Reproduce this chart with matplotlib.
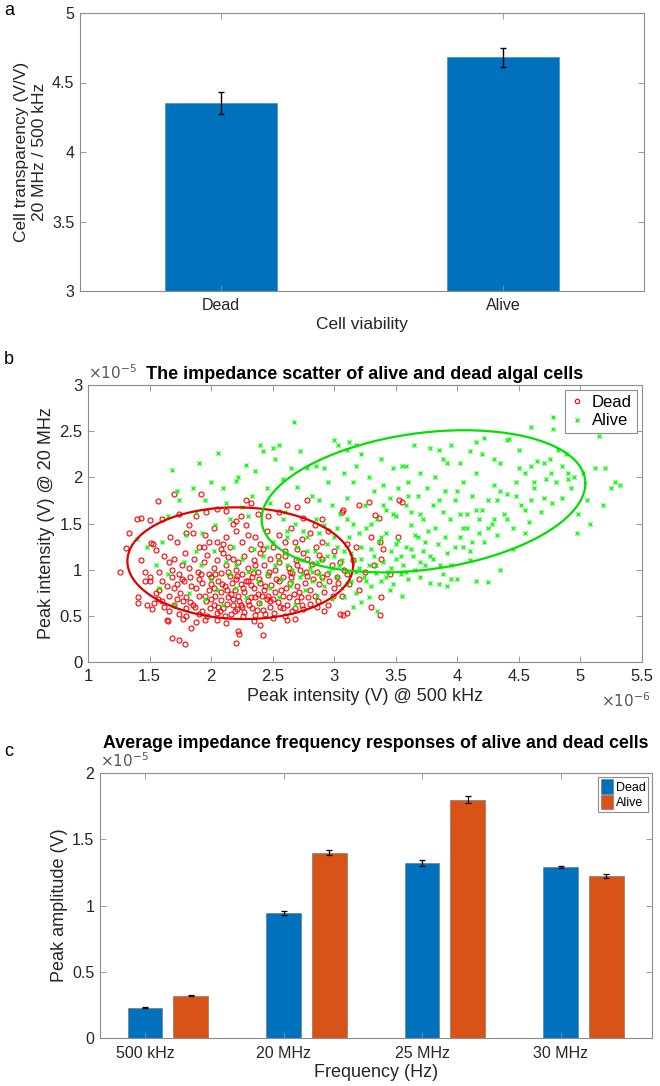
import numpy as np
import matplotlib
matplotlib.use("Agg")
import matplotlib.pyplot as plt
from matplotlib.ticker import FuncFormatter
from matplotlib.lines import Line2D
from matplotlib.patches import Patch

plt.rcParams['font.family'] = ['Liberation Sans', 'DejaVu Sans']

# --- panel a: transparency ratio ---
viability = ['Dead', 'Alive']
transparency = [4.35, 4.68]
transparency_err = [0.08, 0.07]

# --- panel b: scatter (x in 1e-6 V, y in 1e-5 V) ---
dead_pts = [
    (1.40, 1.55), (1.43, 1.56), (1.50, 1.54), (1.57, 1.74), (1.60, 1.55), (1.70, 1.82), (1.74, 1.60),
    (1.82, 1.48), (1.92, 1.82), (1.96, 1.62), (2.05, 1.66), (2.12, 1.63), (2.20, 1.53), (2.24, 1.58),
    (2.28, 1.75), (2.32, 1.72), (2.38, 1.60), (2.46, 1.58), (2.55, 1.62), (2.62, 1.70), (2.70, 1.68),
    (2.78, 1.75), (2.75, 1.56), (2.90, 1.55), (3.07, 1.65), (3.06, 1.62), (3.20, 1.70), (3.28, 1.73),
    (3.33, 1.59), (3.36, 1.56), (3.53, 1.75), (3.55, 1.73), (2.18, 1.50), (1.88, 1.58),
    (1.31, 1.24), (1.33, 1.40), (1.51, 1.29), (1.53, 1.28), (1.55, 1.21), (1.67, 1.35), (1.72, 1.30),
    (1.80, 1.40), (1.85, 1.40), (1.90, 1.25), (1.95, 1.38), (1.98, 1.30), (2.02, 1.45), (2.05, 1.30),
    (2.08, 1.22), (2.12, 1.35), (2.15, 1.25), (2.20, 1.42), (2.25, 1.30), (2.28, 1.48), (2.32, 1.22),
    (2.36, 1.35), (2.40, 1.28), (2.45, 1.42), (2.50, 1.25), (2.55, 1.38), (2.60, 1.30), (2.65, 1.45),
    (2.70, 1.22), (2.74, 1.33), (2.80, 1.40), (2.85, 1.25), (2.90, 1.30), (2.95, 1.42), (3.00, 1.20),
    (3.10, 1.28), (3.18, 1.25), (3.30, 1.35), (3.37, 1.30), (3.40, 1.22), (3.52, 1.35), (3.38, 1.12),
    (1.26, 0.98), (1.43, 1.10), (1.46, 0.98), (1.50, 0.92), (1.58, 0.98), (1.62, 1.15), (1.66, 1.08),
    (1.68, 1.00), (1.70, 1.12), (1.74, 0.95), (1.76, 1.05), (1.79, 1.18), (1.82, 1.02), (1.83, 0.92),
    (1.86, 1.12), (1.89, 0.98), (1.92, 0.95), (1.94, 1.08), (1.97, 1.16), (2.00, 0.92), (2.02, 1.02),
    (2.05, 1.10), (2.08, 0.96), (2.10, 1.18), (2.12, 1.05), (2.15, 0.93), (2.18, 1.12), (2.20, 1.00),
    (2.22, 1.08), (2.25, 0.95), (2.27, 1.15), (2.30, 1.02), (2.33, 0.92), (2.35, 1.10), (2.38, 0.98),
    (2.40, 1.18), (2.43, 1.05), (2.46, 0.94), (2.48, 1.12), (2.52, 1.00), (2.55, 1.08), (2.58, 0.92),
    (2.60, 1.15), (2.63, 1.02), (2.66, 0.96), (2.69, 1.10), (2.72, 1.00), (2.75, 1.18), (2.78, 0.93),
    (2.82, 1.06), (2.86, 0.98), (2.90, 1.12), (2.94, 0.95), (2.98, 1.05), (3.02, 0.92), (3.08, 1.00),
    (3.15, 1.10), (3.25, 0.98), (3.32, 1.05), (3.45, 0.95), (2.88, 1.16), (2.14, 1.14),
    (1.41, 0.70), (1.46, 0.88), (1.50, 0.88), (1.58, 0.78), (1.60, 0.88), (1.66, 0.72), (1.70, 0.80),
    (1.72, 0.85), (1.75, 0.75), (1.78, 0.88), (1.80, 0.70), (1.84, 0.82), (1.88, 0.80), (1.90, 0.72),
    (1.93, 0.86), (1.95, 0.72), (1.98, 0.78), (2.00, 0.84), (2.03, 0.72), (2.06, 0.88), (2.08, 0.76),
    (2.11, 0.82), (2.14, 0.70), (2.17, 0.86), (2.19, 0.78), (2.22, 0.72), (2.24, 0.84), (2.27, 0.76),
    (2.30, 0.88), (2.32, 0.70), (2.35, 0.80), (2.38, 0.74), (2.40, 0.86), (2.43, 0.78), (2.46, 0.71),
    (2.49, 0.83), (2.52, 0.76), (2.55, 0.88), (2.58, 0.72), (2.61, 0.80), (2.64, 0.86), (2.67, 0.74),
    (2.70, 0.82), (2.73, 0.70), (2.76, 0.86), (2.80, 0.78), (2.84, 0.72), (2.88, 0.84), (2.92, 0.76),
    (2.96, 0.88), (3.00, 0.80), (3.06, 0.72), (3.12, 0.85), (3.20, 0.78), (3.38, 0.70), (2.26, 0.80),
    (2.44, 0.82), (2.13, 0.78),
    (1.41, 0.64), (1.48, 0.62), (1.52, 0.57), (1.54, 0.64), (1.57, 0.68), (1.62, 0.60), (1.66, 0.55),
    (1.70, 0.62), (1.74, 0.52), (1.77, 0.66), (1.80, 0.58), (1.83, 0.65), (1.87, 0.60), (1.90, 0.52),
    (1.93, 0.55), (1.96, 0.66), (1.99, 0.58), (2.02, 0.62), (2.05, 0.53), (2.08, 0.67), (2.10, 0.58),
    (2.13, 0.63), (2.16, 0.52), (2.18, 0.68), (2.21, 0.57), (2.24, 0.62), (2.27, 0.54), (2.30, 0.66),
    (2.33, 0.58), (2.36, 0.51), (2.39, 0.64), (2.42, 0.56), (2.45, 0.68), (2.48, 0.60), (2.51, 0.53),
    (2.54, 0.65), (2.58, 0.58), (2.62, 0.62), (2.66, 0.55), (2.70, 0.66), (2.75, 0.57), (2.80, 0.63),
    (2.86, 0.60), (2.92, 0.55), (3.05, 0.52), (3.07, 0.51), (3.10, 0.53), (3.37, 0.51), (2.25, 0.60),
    (2.06, 0.60),
    (1.64, 0.45), (1.65, 0.44), (1.68, 0.26), (1.74, 0.24), (1.77, 0.47), (1.79, 0.19), (1.84, 0.37),
    (1.95, 0.46), (2.05, 0.45), (2.20, 0.21), (2.22, 0.34), (2.23, 0.30), (2.35, 0.44), (2.40, 0.40),
    (2.42, 0.29), (2.50, 0.48), (2.62, 0.46), (2.68, 0.47), (2.12, 0.42), (1.88, 0.43),
    (1.85, 0.62), (1.90, 0.90), (1.97, 0.50), (2.00, 0.68), (2.03, 0.95), (2.07, 0.55), (2.09, 0.85),
    (2.11, 0.50), (2.14, 0.98), (2.16, 0.74), (2.19, 0.55), (2.21, 0.93), (2.23, 0.66), (2.26, 0.50),
    (2.28, 0.88), (2.31, 0.62), (2.34, 0.96), (2.36, 0.70), (2.37, 0.56), (2.39, 0.90), (2.41, 0.72),
    (2.44, 0.52), (2.47, 0.98), (2.50, 0.68), (2.53, 0.90), (2.56, 0.60), (2.57, 0.78), (2.60, 0.50),
    (2.63, 0.70), (2.65, 0.92), (2.68, 0.58), (2.71, 0.76), (2.74, 0.62), (2.77, 0.98), (2.79, 0.70),
    (2.83, 0.90), (2.87, 0.66), (2.90, 0.92), (2.95, 0.62), (2.99, 0.72), (3.03, 0.86), (3.10, 0.95),
    (1.72, 0.68), (1.76, 0.90), (1.80, 0.50), (1.64, 0.82), (1.60, 0.66), (1.55, 0.75), (1.68, 0.92),
    (1.94, 1.25), (2.10, 1.28), (2.30, 1.38), (2.42, 1.22), (2.60, 1.20), (2.68, 1.30), (2.78, 1.12),
    (2.84, 1.48), (3.05, 1.08), (3.20, 0.90), (3.30, 0.60), (2.18, 0.62), (2.32, 0.83), (2.48, 0.66),
    (2.64, 0.98), (2.20, 0.90), (2.02, 0.80), (1.98, 0.95), (2.36, 1.05), (2.54, 1.15), (2.70, 1.05),
]
alive_pts = [
    (1.40, 1.33), (1.48, 1.25), (1.55, 1.05), (1.60, 1.30), (1.65, 1.58), (1.68, 2.08), (1.72, 1.85),
    (1.74, 1.75), (1.80, 1.38), (1.85, 1.88), (1.88, 1.62), (1.90, 2.15), (1.93, 1.40), (1.95, 1.75),
    (2.00, 1.95), (2.03, 1.48), (2.06, 2.26), (2.10, 1.88), (2.12, 1.72), (2.15, 1.55), (2.20, 1.96),
    (2.22, 2.00), (2.25, 1.68), (2.28, 2.13), (2.30, 1.58), (2.33, 1.80), (2.36, 2.07), (2.40, 2.35),
    (2.42, 2.28), (2.45, 1.88), (2.48, 1.72), (2.50, 2.32), (2.52, 2.20), (2.55, 2.35), (2.58, 1.98),
    (2.60, 1.62), (2.65, 2.10), (2.67, 2.60), (2.70, 1.90), (2.72, 2.28), (2.78, 2.10), (2.82, 1.80),
    (2.85, 2.12), (2.88, 1.75), (2.92, 2.10), (2.95, 1.95), (3.00, 2.40), (3.03, 2.35), (3.10, 2.30),
    (3.08, 2.05), (2.98, 1.70),
    (1.58, 0.80), (1.65, 0.95), (1.70, 0.62), (1.78, 1.08), (1.82, 0.75), (1.88, 1.20), (1.92, 1.05),
    (1.95, 0.68), (2.00, 0.90), (2.02, 1.20), (2.05, 0.78), (2.10, 0.62), (2.12, 1.08), (2.15, 0.95),
    (2.18, 1.25), (2.20, 0.80), (2.25, 1.12), (2.28, 0.70), (2.30, 0.98), (2.35, 1.22), (2.38, 0.88),
    (2.40, 0.64), (2.42, 1.15), (2.45, 0.95), (2.48, 0.80), (2.50, 1.30), (2.52, 1.05), (2.55, 0.70),
    (2.57, 0.90), (2.60, 1.18), (2.62, 1.42), (2.64, 0.82), (2.66, 1.00), (2.68, 0.62), (2.70, 1.25),
    (2.72, 0.92), (2.74, 1.10), (2.76, 0.78), (2.78, 1.35), (2.80, 1.02), (2.82, 0.88), (2.84, 1.20),
    (2.86, 0.72), (2.88, 0.95), (2.90, 1.10), (2.92, 0.82), (2.94, 1.28), (2.96, 0.98), (2.98, 0.68),
    (3.00, 1.15), (2.58, 1.55), (2.62, 1.35), (2.68, 1.50), (2.75, 1.42), (2.85, 1.55), (2.92, 1.48),
    (3.02, 1.45),
    (3.02, 0.92), (3.04, 1.05), (3.06, 0.80), (3.08, 1.20), (3.10, 0.98), (3.12, 1.35), (3.14, 0.88),
    (3.16, 1.10), (3.18, 0.75), (3.20, 1.02), (3.22, 1.25), (3.24, 0.92), (3.26, 1.45), (3.28, 1.05),
    (3.30, 0.82), (3.32, 1.15), (3.34, 0.96), (3.36, 1.30), (3.38, 0.88), (3.40, 1.08), (3.42, 1.40),
    (3.44, 0.98), (3.46, 1.20), (3.48, 0.84), (3.50, 1.12), (3.52, 1.32), (3.54, 0.95), (3.56, 1.05),
    (3.58, 1.25), (3.60, 0.90), (3.62, 1.48), (3.64, 1.15), (3.66, 1.00), (3.68, 1.35), (3.70, 0.92),
    (3.72, 1.20), (3.74, 1.05), (3.76, 1.42), (3.78, 0.86), (3.80, 1.12), (3.84, 1.28), (3.88, 0.95),
    (3.92, 1.18), (3.95, 1.05), (4.00, 0.90), (4.05, 1.25), (4.10, 1.10), (3.15, 0.60), (3.22, 0.65),
    (3.28, 0.70), (3.35, 0.55), (3.08, 0.70), (3.45, 0.78), (3.55, 0.72), (3.85, 0.85), (3.95, 0.90),
    (4.25, 0.87), (3.92, 0.82),
    (3.05, 1.60), (3.10, 1.78), (3.15, 1.95), (3.18, 2.12), (3.22, 2.25), (3.25, 1.70), (3.28, 2.00),
    (3.32, 1.85), (3.35, 1.55), (3.38, 2.20), (3.40, 1.92), (3.42, 1.65), (3.45, 1.78), (3.48, 2.10),
    (3.50, 1.58), (3.52, 1.88), (3.55, 2.12), (3.58, 1.70), (3.60, 1.95), (3.62, 1.62), (3.65, 2.35),
    (3.68, 1.80), (3.70, 2.05), (3.72, 1.55), (3.75, 1.88), (3.78, 2.32), (3.80, 1.70), (3.82, 2.00),
    (3.85, 2.30), (3.88, 1.62), (3.90, 1.85), (3.92, 2.15), (3.95, 2.35), (3.98, 1.75), (4.02, 2.15),
    (4.05, 1.95), (4.08, 1.60), (4.10, 2.28), (4.12, 1.80), (4.15, 2.05), (4.18, 1.55), (4.20, 2.25),
    (3.58, 2.12), (3.12, 2.38), (3.18, 2.35), (3.10, 1.55),
    (4.02, 1.35), (4.05, 1.45), (4.10, 1.20), (4.15, 1.65), (4.18, 1.40), (4.22, 1.30), (4.25, 1.75),
    (4.28, 1.50), (4.30, 1.92), (4.32, 1.38), (4.35, 2.15), (4.38, 1.60), (4.40, 1.82), (4.42, 2.42),
    (4.45, 1.45), (4.48, 1.95), (4.50, 2.10), (4.52, 1.70), (4.55, 2.05), (4.58, 1.52), (4.60, 2.12),
    (4.62, 1.88), (4.65, 2.18), (4.68, 1.62), (4.70, 2.15), (4.72, 1.98), (4.75, 2.20), (4.77, 1.72),
    (4.78, 2.65), (4.78, 2.52), (4.80, 1.95), (4.82, 2.30), (4.85, 1.78), (4.88, 2.25), (4.90, 2.05),
    (4.92, 1.88), (4.95, 2.00), (4.97, 1.40), (4.98, 1.60), (5.00, 2.50), (5.02, 2.05), (5.05, 1.75),
    (5.08, 1.50), (5.12, 2.10), (5.15, 2.45), (5.18, 1.70), (5.20, 2.10), (5.25, 1.88), (5.28, 1.95),
    (5.32, 1.92), (4.60, 2.55), (4.40, 2.40), (4.22, 2.43), (4.30, 1.55), (4.55, 1.40), (4.45, 1.22),
    (4.15, 0.88), (4.35, 1.00),
    (2.62, 1.05), (2.66, 0.88), (2.70, 1.12), (2.74, 0.95), (2.78, 1.20), (2.82, 0.98), (2.86, 1.08),
    (2.90, 0.90), (2.94, 1.15), (2.98, 1.02), (3.02, 1.25), (3.06, 1.10), (3.10, 0.85), (3.14, 1.18),
    (3.18, 0.98), (3.22, 1.12), (3.26, 0.88), (3.30, 1.22), (3.34, 1.05), (3.38, 1.35), (3.42, 0.92),
    (3.46, 1.02), (3.50, 1.28), (3.54, 1.15), (3.58, 0.98), (3.62, 1.22), (3.66, 1.38), (3.70, 1.08),
    (3.74, 1.30), (3.78, 1.15), (3.82, 1.45), (3.86, 1.05), (3.90, 1.35), (3.94, 1.55), (3.98, 1.25),
    (4.02, 1.60), (4.08, 1.45), (4.12, 1.30), (4.20, 1.65), (4.25, 1.45), (4.32, 1.75), (4.40, 1.55),
    (4.48, 1.80), (4.55, 1.65), (4.62, 1.95), (4.70, 1.78), (4.76, 2.05), (4.85, 2.12), (4.90, 1.98),
    (4.30, 2.20), (4.50, 2.30), (4.15, 2.38), (3.88, 2.20), (3.60, 1.80), (3.48, 1.60), (3.40, 1.70),
    (3.30, 1.50), (3.20, 1.40), (3.15, 1.50), (3.00, 1.35), (2.88, 1.40), (2.55, 1.10), (2.45, 1.25),
    (2.35, 1.00), (2.20, 1.05), (3.70, 1.60), (3.85, 1.75), (4.00, 1.85), (4.35, 1.85), (4.60, 1.75),
]
# fitted ellipses: centre and shape matrix (same units as above)
dead_centre = (2.237, 1.07)
dead_shape = [[0.841, -0.02], [-0.02, 0.366]]
alive_centre = (3.725, 1.74)
alive_shape = [[1.729, 0.255], [0.255, 0.593]]

# --- panel c: average responses (1e-5 V) ---
freqs = ['500 kHz', '20 MHz', '25 MHz', '30 MHz']
dead_amp = [0.23, 0.94, 1.32, 1.29]
dead_amp_err = [0.004, 0.015, 0.02, 0.01]
alive_amp = [0.32, 1.40, 1.80, 1.22]
alive_amp_err = [0.005, 0.02, 0.025, 0.015]

BLUE = '#0072BD'
ORANGE = '#D95319'
EDGE = '#8c8c8c'
TXT = '#262626'

fig = plt.figure(figsize=(6.6, 10.86), dpi=100)


def px_axes(l, t, r, b):
    return fig.add_axes([l / 660, 1 - b / 1086, (r - l) / 660, (b - t) / 1086])


def matlab_style(ax, size, xpad=4):
    for s in ax.spines.values():
        s.set_color(EDGE)
        s.set_linewidth(0.8)
    ax.tick_params(direction='in', top=True, right=True, length=4, width=0.6,
                   color=EDGE, labelsize=size, labelcolor=TXT, pad=4)
    ax.tick_params(axis='x', pad=xpad)


# ---------- a ----------
ax = px_axes(80, 13, 644, 291)
xa = np.arange(1, len(viability) + 1)
ax.bar(xa, transparency, width=0.4, color=BLUE, edgecolor='#3d7fb5', linewidth=0.4)
ax.errorbar(xa, transparency, yerr=transparency_err, fmt='none', ecolor='black',
            elinewidth=1.0, capsize=2.5, capthick=1.0)
ax.set_xlim(0.5, 2.5)
ax.set_ylim(3, 5)
ax.set_xticks(xa)
ax.set_xticklabels(viability)
ax.set_yticks([3, 3.5, 4, 4.5, 5])
ax.yaxis.set_major_formatter(FuncFormatter(lambda v, _: f'{v:g}'))
matlab_style(ax, 11.5, xpad=5)
ax.set_xlabel('Cell viability', fontsize=12.5, color=TXT, labelpad=3)
ax.set_ylabel('Cell transparency (V/V)\n20 MHz / 500 kHz', fontsize=12.5, color=TXT, labelpad=4)
fig.text(4 / 660, 1 - 2 / 1086, 'a', fontsize=13, va='top', ha='left')

# ---------- b ----------
ax = px_axes(88, 385, 642, 662)
dead_arr = np.array(dead_pts)
alive_arr = np.array(alive_pts)
ax.plot(dead_arr[:, 0] * 1e-6, dead_arr[:, 1] * 1e-5, 'o', ls='none', ms=3.6,
        mfc='none', mec='#FF0000', mew=0.8)
ax.plot(alive_arr[:, 0] * 1e-6, alive_arr[:, 1] * 1e-5, 'x', ls='none', ms=3.0,
        color='#00FF00', mew=0.9)
tt = np.linspace(0, 2 * np.pi, 300)
for centre, shape, col in [(dead_centre, dead_shape, '#E00000'),
                           (alive_centre, alive_shape, '#00E000')]:
    L = np.linalg.cholesky(np.array(shape))
    e = L @ np.vstack([np.cos(tt), np.sin(tt)])
    ax.plot((centre[0] + e[0]) * 1e-6, (centre[1] + e[1]) * 1e-5, color=col, lw=1.6)
ax.set_xlim(1e-6, 5.5e-6)
ax.set_ylim(0, 3e-5)
ax.set_xticks(np.arange(1, 5.51, 0.5) * 1e-6)
ax.set_yticks(np.arange(0, 3.01, 0.5) * 1e-5)
ax.xaxis.set_major_formatter(FuncFormatter(lambda v, _: f'{v / 1e-6:g}'))
ax.yaxis.set_major_formatter(FuncFormatter(lambda v, _: f'{v / 1e-5:g}'))
matlab_style(ax, 12, xpad=5)
ax.set_xlabel('Peak intensity (V) @ 500 kHz', fontsize=13, color=TXT, labelpad=3)
ax.set_ylabel('Peak intensity (V) @ 20 MHz', fontsize=13, color=TXT, labelpad=3)
ax.set_title('The impedance scatter of alive and dead algal cells', fontsize=13,
             fontweight='bold', color='black', pad=4)
ax.text(0.0, 1.01, r'$\times10^{-5}$', transform=ax.transAxes, fontsize=11,
        color='#555555', ha='left', va='bottom')
ax.text(1.015, -0.105, r'$\times10^{-6}$', transform=ax.transAxes, fontsize=11,
        color='#555555', ha='right', va='top')
handles = [Line2D([], [], marker='o', ls='none', ms=3.2, mfc='none', mec='#FF0000', mew=0.8),
           Line2D([], [], marker='x', ls='none', ms=2.8, color='#00FF00', mew=0.9)]
leg = ax.legend(handles, ['Dead', 'Alive'], loc='upper right', fontsize=12,
                handlelength=0.8, handletextpad=0.5, borderpad=0.3, labelspacing=0.2,
                fancybox=False, framealpha=1, borderaxespad=0.3)
leg.get_frame().set_edgecolor(EDGE)
leg.get_frame().set_linewidth(0.8)
fig.text(4 / 660, 1 - 360 / 1086, 'b', fontsize=13, va='center', ha='left')

# ---------- c ----------
ax = px_axes(100, 773, 652, 1038)
xc = np.arange(1, len(freqs) + 1)
ax.bar(xc, np.array(dead_amp) * 1e-5, width=0.25, color=BLUE, edgecolor='#6b6b6b', linewidth=0.4)
ax.bar(xc + 0.33, np.array(alive_amp) * 1e-5, width=0.25, color=ORANGE, edgecolor='#6b6b6b',
       linewidth=0.4)
ax.errorbar(xc, np.array(dead_amp) * 1e-5, yerr=np.array(dead_amp_err) * 1e-5, fmt='none',
            ecolor='black', elinewidth=0.9, capsize=2.5, capthick=0.9)
ax.errorbar(xc + 0.33, np.array(alive_amp) * 1e-5, yerr=np.array(alive_amp_err) * 1e-5,
            fmt='none', ecolor='black', elinewidth=0.9, capsize=2.5, capthick=0.9)
ax.set_xlim(0.675, 4.66)
ax.set_ylim(0, 2e-5)
ax.set_xticks(xc)
ax.set_xticklabels(freqs)
ax.set_yticks(np.arange(0, 2.01, 0.5) * 1e-5)
ax.yaxis.set_major_formatter(FuncFormatter(lambda v, _: f'{v / 1e-5:g}'))
matlab_style(ax, 11.5, xpad=6)
ax.set_xlabel('Frequency (Hz)', fontsize=13, color=TXT, labelpad=2)
ax.set_ylabel('Peak amplitude (V)', fontsize=13, color=TXT, labelpad=3)
ax.set_title('Average impedance frequency responses of alive and dead cells', fontsize=12.8,
             fontweight='bold', color='black', pad=18, loc='center')
ax.text(0.0, 1.01, r'$\times10^{-5}$', transform=ax.transAxes, fontsize=11,
        color='#555555', ha='left', va='bottom')
leg = ax.legend([Patch(facecolor=BLUE, edgecolor='#6b6b6b', lw=0.4),
                 Patch(facecolor=ORANGE, edgecolor='#6b6b6b', lw=0.4)], ['Dead', 'Alive'],
                loc='upper right', fontsize=9, handlelength=1.0, handleheight=1.4,
                handletextpad=0.2, borderpad=0.2, labelspacing=0.1, fancybox=False,
                framealpha=1, borderaxespad=0.3)
leg.get_frame().set_edgecolor(EDGE)
leg.get_frame().set_linewidth(0.8)
fig.text(4 / 660, 1 - 752 / 1086, 'c', fontsize=13, va='center', ha='left')

fig.savefig('out.png', dpi=100)
